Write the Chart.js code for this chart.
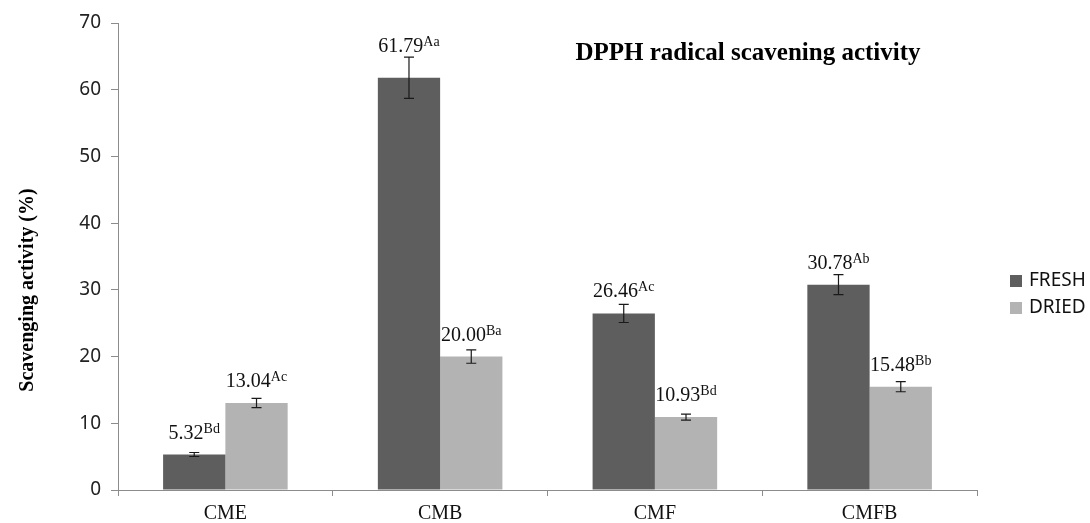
<!DOCTYPE html>
<html>
<head>
<meta charset="utf-8">
<script src="https://cdn.jsdelivr.net/npm/chart.js@4/dist/chart.umd.min.js"></script>
<style>
  html, body { margin: 0; padding: 0; background: #ffffff; }
  #wrap { width: 1090px; height: 523px; position: relative; }
</style>
</head>
<body>
<div id="wrap"><canvas id="c" width="1090" height="523"></canvas></div>
<script>
// Samples and DPPH radical scavenging activity (%)
const categories = ['CME', 'CMB', 'CMF', 'CMFB'];
const seriesNames = ['FRESH', 'DRIED'];
const freshValues = [5.32, 61.79, 26.46, 30.78];
const driedValues = [13.04, 20.00, 10.93, 15.48];
// Standard deviations shown as error bars
const freshErrors = [0.3, 3.1, 1.35, 1.5];
const driedErrors = [0.7, 1.0, 0.45, 0.75];
// Significance letters printed after each value
const freshLetters = ['Bd', 'Aa', 'Ac', 'Ab'];
const driedLetters = ['Ac', 'Ba', 'Bd', 'Bb'];
const yTicks = [0, 10, 20, 30, 40, 50, 60, 70];

const chartTitle = 'DPPH radical scavening activity';
const yTitle = 'Scavenging activity (%)';

const COLORS = ['#5e5e5e', '#b3b3b3'];
const AXIS = '#8c8c8c';
const SERIF = '"Liberation Serif", "Times New Roman", serif';
const SANS = '"Noto Sans", "DejaVu Sans", sans-serif';

const errorSets = [freshErrors, driedErrors];
const letterSets = [freshLetters, driedLetters];

// Error bars, value labels with superscript letters, titles and legend
const decorPlugin = {
  id: 'decor',
  afterDatasetsDraw(chart) {
    const ctx = chart.ctx;
    const y = chart.scales.y;
    chart.data.datasets.forEach((ds, di) => {
      const meta = chart.getDatasetMeta(di);
      meta.data.forEach((bar, i) => {
        const v = ds.data[i];
        const e = errorSets[di][i];
        const x = bar.x;
        const yTop = y.getPixelForValue(v + e);
        const yBot = y.getPixelForValue(v - e);
        // error bar
        ctx.save();
        ctx.strokeStyle = '#1a1a1a';
        ctx.lineWidth = 1.2;
        ctx.beginPath();
        ctx.moveTo(x, yTop); ctx.lineTo(x, yBot);
        ctx.moveTo(x - 5, yTop); ctx.lineTo(x + 5, yTop);
        ctx.moveTo(x - 5, yBot); ctx.lineTo(x + 5, yBot);
        ctx.stroke();
        ctx.restore();
        // value label
        const barTop = y.getPixelForValue(v);
        const base = Math.min(barTop - 16, yTop - 5);
        const main = v.toFixed(2);
        const sup = letterSets[di][i];
        ctx.save();
        ctx.fillStyle = '#111111';
        ctx.textBaseline = 'alphabetic';
        ctx.textAlign = 'left';
        ctx.font = '20px ' + SERIF;
        const wMain = ctx.measureText(main).width;
        ctx.font = '14px ' + SERIF;
        const wSup = ctx.measureText(sup).width;
        const start = x - (wMain + wSup) / 2;
        ctx.font = '20px ' + SERIF;
        ctx.fillText(main, start, base);
        ctx.font = '14px ' + SERIF;
        ctx.fillText(sup, start + wMain, base - 6);
        ctx.restore();
      });
    });
  },
  afterDraw(chart) {
    const ctx = chart.ctx;
    ctx.save();
    // chart title
    ctx.fillStyle = '#000000';
    ctx.font = 'bold 25px ' + SERIF;
    ctx.textAlign = 'center';
    ctx.textBaseline = 'alphabetic';
    ctx.fillText(chartTitle, 748, 60);
    // y axis title
    ctx.translate(28, 290);
    ctx.rotate(-Math.PI / 2);
    ctx.font = 'bold 20px ' + SERIF;
    ctx.textBaseline = 'middle';
    ctx.fillText(yTitle, 0, 0);
    ctx.restore();
    // legend
    ctx.save();
    ctx.font = '19px ' + SANS;
    ctx.textBaseline = 'middle';
    ctx.textAlign = 'left';
    chart.data.datasets.forEach((ds, di) => {
      const cy = 281 + di * 27;
      ctx.fillStyle = ds.backgroundColor;
      ctx.fillRect(1010, cy - 6, 12, 12);
      ctx.fillStyle = '#111111';
      ctx.fillText(ds.label, 1029, cy);
    });
    ctx.restore();
  }
};

new Chart(document.getElementById('c'), {
  type: 'bar',
  data: {
    labels: categories,
    datasets: [
      { label: seriesNames[0], data: freshValues, backgroundColor: COLORS[0] },
      { label: seriesNames[1], data: driedValues, backgroundColor: COLORS[1] }
    ]
  },
  options: {
    responsive: false,
    animation: false,
    devicePixelRatio: 1,
    layout: { padding: { top: 23, right: 113, left: 0, bottom: 0 } },
    datasets: { bar: { categoryPercentage: 0.58, barPercentage: 1.0, borderWidth: 0 } },
    plugins: {
      legend: { display: false },
      tooltip: { enabled: false }
    },
    scales: {
      x: {
        grid: { drawOnChartArea: false, drawTicks: true, tickLength: 6, color: AXIS, offset: true },
        border: { display: true, color: AXIS, width: 1 },
        ticks: { color: '#111111', font: { family: SERIF, size: 20 }, padding: 6 },
        afterFit(scale) { scale.height = 33; }
      },
      y: {
        min: 0, max: 70,
        afterBuildTicks(scale) { scale.ticks = yTicks.map(v => ({ value: v })); },
        grid: { drawOnChartArea: false, drawTicks: true, tickLength: 7, color: AXIS },
        border: { display: true, color: AXIS, width: 1 },
        ticks: { color: '#222222', font: { family: SANS, size: 19 }, padding: 10 },
        afterFit(scale) { scale.width = 118; }
      }
    }
  },
  plugins: [decorPlugin]
});
</script>
</body>
</html>
